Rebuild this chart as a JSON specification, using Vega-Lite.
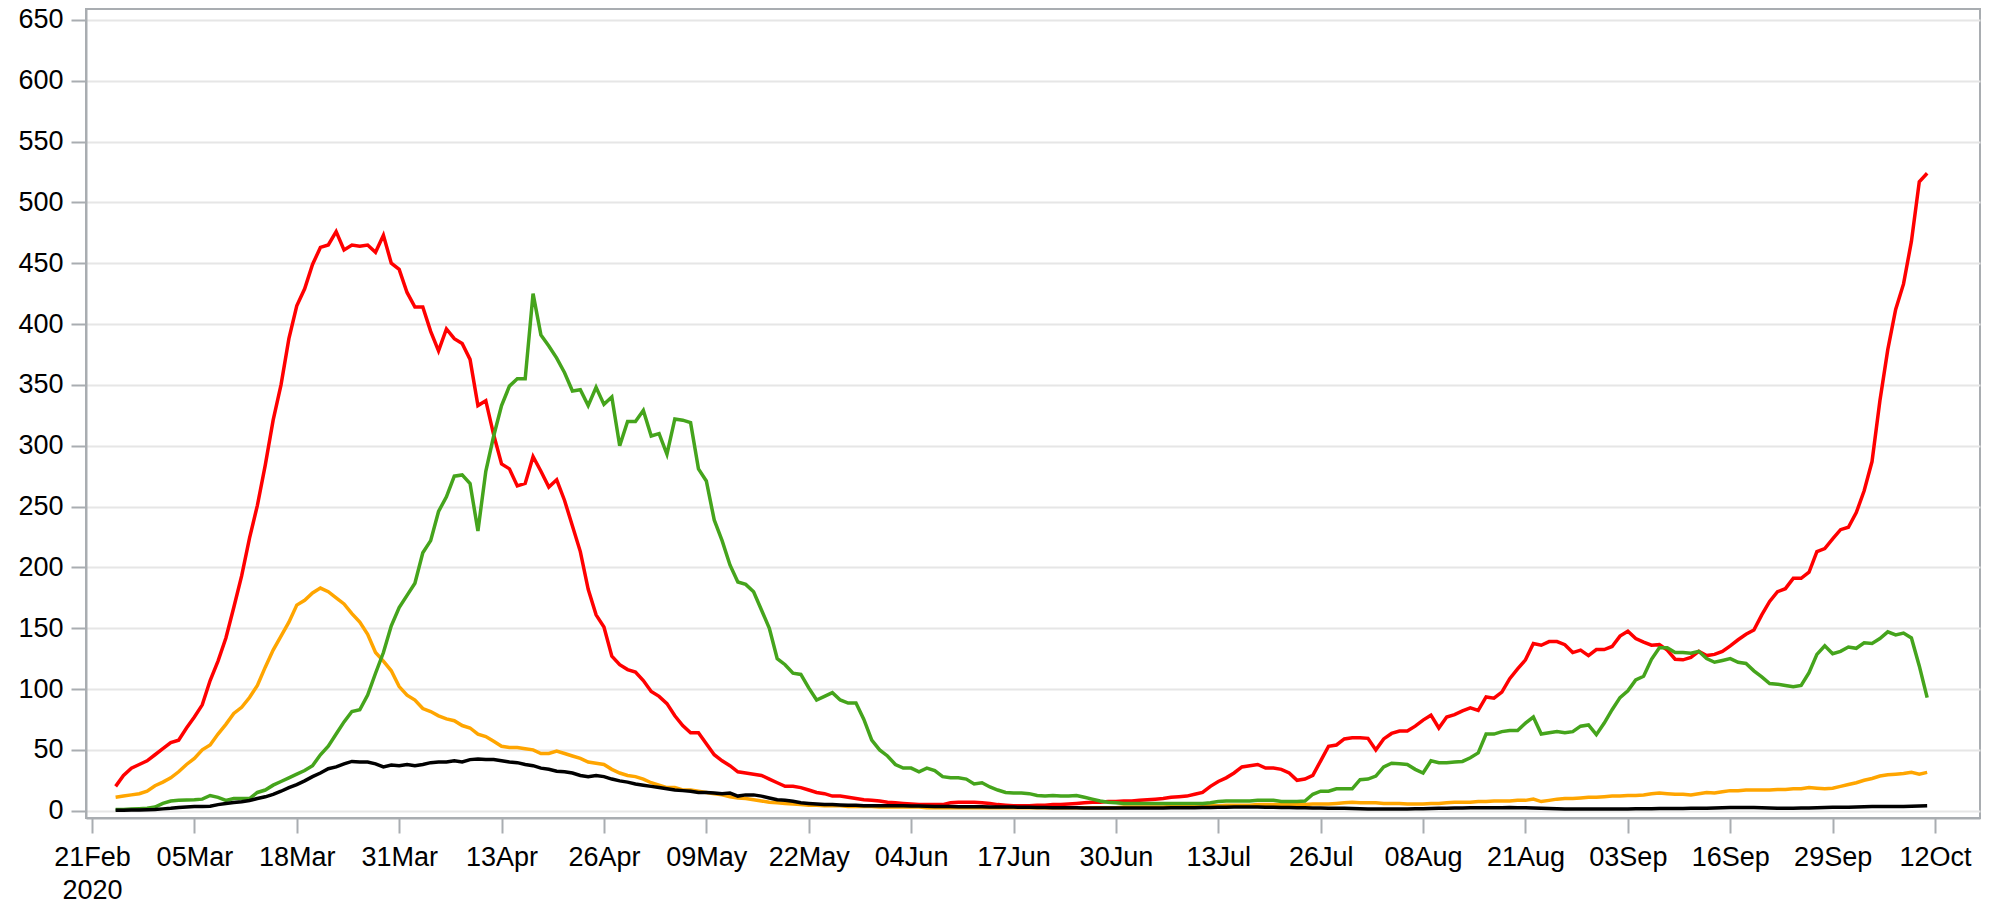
{
"$schema": "https://vega.github.io/schema/vega-lite/v6.json",
"width": 1894,
"height": 809,
"autosize": {"type": "none"},
"padding": {"left": 86, "top": 9, "right": 15, "bottom": 90},
"background": "white",
"config": {"view": {"stroke": "#a9adb1", "strokeWidth": 2}, "font": "Liberation Sans"},
"data": {"values": [
{"date":"2020-02-24","A":20,"B":11,"C":1,"D":0.3},
{"date":"2020-02-25","A":29,"B":12,"C":1,"D":0.4},
{"date":"2020-02-26","A":35,"B":13,"C":1.3,"D":0.5},
{"date":"2020-02-27","A":38,"B":14,"C":1.7,"D":0.6},
{"date":"2020-02-28","A":41,"B":16,"C":2,"D":0.8},
{"date":"2020-02-29","A":46,"B":20.5,"C":3,"D":1},
{"date":"2020-03-01","A":51,"B":23.5,"C":6,"D":1.5},
{"date":"2020-03-02","A":56,"B":27,"C":8,"D":2},
{"date":"2020-03-03","A":58,"B":32,"C":8.5,"D":2.7},
{"date":"2020-03-04","A":68,"B":38,"C":8.7,"D":3},
{"date":"2020-03-05","A":77,"B":43,"C":9,"D":3.4},
{"date":"2020-03-06","A":87,"B":50,"C":9.5,"D":3.5},
{"date":"2020-03-07","A":107,"B":54,"C":12.5,"D":3.7},
{"date":"2020-03-08","A":123,"B":63,"C":11,"D":5},
{"date":"2020-03-09","A":142,"B":71,"C":8.5,"D":6},
{"date":"2020-03-10","A":167,"B":80,"C":10,"D":6.7},
{"date":"2020-03-11","A":193,"B":85,"C":10,"D":7.4},
{"date":"2020-03-12","A":224,"B":93,"C":10,"D":8.4},
{"date":"2020-03-13","A":251,"B":103,"C":15,"D":10},
{"date":"2020-03-14","A":284,"B":118,"C":17,"D":11.4},
{"date":"2020-03-15","A":321,"B":132,"C":21,"D":13.4},
{"date":"2020-03-16","A":350,"B":143.5,"C":24,"D":16},
{"date":"2020-03-17","A":388,"B":155,"C":27,"D":19},
{"date":"2020-03-18","A":415,"B":169,"C":30,"D":21.5},
{"date":"2020-03-19","A":429,"B":173,"C":33,"D":24.5},
{"date":"2020-03-20","A":449,"B":179,"C":37,"D":28},
{"date":"2020-03-21","A":463,"B":183,"C":46,"D":31},
{"date":"2020-03-22","A":465,"B":180,"C":53,"D":34.5},
{"date":"2020-03-23","A":476,"B":175,"C":63,"D":36},
{"date":"2020-03-24","A":461,"B":170,"C":73,"D":38.5},
{"date":"2020-03-25","A":465,"B":162,"C":81.5,"D":40.5},
{"date":"2020-03-26","A":464,"B":155,"C":83,"D":40},
{"date":"2020-03-27","A":465,"B":145,"C":95,"D":40},
{"date":"2020-03-28","A":459,"B":130,"C":113,"D":38.5},
{"date":"2020-03-29","A":473,"B":123,"C":130,"D":36},
{"date":"2020-03-30","A":450,"B":115,"C":152,"D":37.5},
{"date":"2020-03-31","A":445,"B":102,"C":167,"D":37},
{"date":"2020-04-01","A":426,"B":95,"C":177,"D":38},
{"date":"2020-04-02","A":414,"B":91,"C":187,"D":37},
{"date":"2020-04-03","A":414,"B":84,"C":212,"D":38},
{"date":"2020-04-04","A":394,"B":81.5,"C":222,"D":39.5},
{"date":"2020-04-05","A":378,"B":78,"C":246,"D":40},
{"date":"2020-04-06","A":396,"B":75.5,"C":258,"D":40},
{"date":"2020-04-07","A":388,"B":74,"C":275,"D":41},
{"date":"2020-04-08","A":384,"B":70,"C":276,"D":40},
{"date":"2020-04-09","A":371,"B":68,"C":269,"D":42},
{"date":"2020-04-10","A":333,"B":63,"C":230,"D":42.5},
{"date":"2020-04-11","A":337,"B":61,"C":279,"D":42},
{"date":"2020-04-12","A":309,"B":57,"C":308,"D":42},
{"date":"2020-04-13","A":285,"B":53,"C":333,"D":41},
{"date":"2020-04-14","A":281,"B":52,"C":349,"D":40},
{"date":"2020-04-15","A":267,"B":52,"C":355,"D":39.5},
{"date":"2020-04-16","A":269,"B":51,"C":355,"D":38},
{"date":"2020-04-17","A":291,"B":50,"C":425,"D":37},
{"date":"2020-04-18","A":279,"B":47,"C":391,"D":35},
{"date":"2020-04-19","A":266,"B":47,"C":382,"D":34},
{"date":"2020-04-20","A":272,"B":49,"C":372,"D":32.5},
{"date":"2020-04-21","A":255,"B":47,"C":360,"D":32},
{"date":"2020-04-22","A":234,"B":45,"C":345,"D":31},
{"date":"2020-04-23","A":213,"B":43,"C":346,"D":29},
{"date":"2020-04-24","A":182,"B":40,"C":333,"D":28},
{"date":"2020-04-25","A":161,"B":39,"C":348,"D":29},
{"date":"2020-04-26","A":151,"B":38,"C":334,"D":28},
{"date":"2020-04-27","A":127,"B":34,"C":340,"D":26},
{"date":"2020-04-28","A":120,"B":31,"C":300,"D":24.5},
{"date":"2020-04-29","A":116,"B":29,"C":320,"D":23.5},
{"date":"2020-04-30","A":114,"B":28,"C":320,"D":22},
{"date":"2020-05-01","A":107,"B":26,"C":329,"D":21},
{"date":"2020-05-02","A":98,"B":23,"C":308,"D":20},
{"date":"2020-05-03","A":94,"B":21,"C":310,"D":19},
{"date":"2020-05-04","A":88,"B":19,"C":293,"D":18},
{"date":"2020-05-05","A":78,"B":19,"C":322,"D":17},
{"date":"2020-05-06","A":70,"B":17,"C":321,"D":16.5},
{"date":"2020-05-07","A":64,"B":17,"C":319,"D":16},
{"date":"2020-05-08","A":64,"B":16,"C":281,"D":15},
{"date":"2020-05-09","A":55,"B":15,"C":271,"D":15},
{"date":"2020-05-10","A":46,"B":14,"C":239,"D":14.5},
{"date":"2020-05-11","A":41,"B":13,"C":222,"D":14},
{"date":"2020-05-12","A":37,"B":11.5,"C":202,"D":14.5},
{"date":"2020-05-13","A":32,"B":10.5,"C":188,"D":12},
{"date":"2020-05-14","A":31,"B":10,"C":186,"D":13},
{"date":"2020-05-15","A":30,"B":9,"C":180,"D":13},
{"date":"2020-05-16","A":29,"B":8,"C":165,"D":12},
{"date":"2020-05-17","A":26,"B":7,"C":150,"D":10.5},
{"date":"2020-05-18","A":23,"B":6.5,"C":125,"D":9},
{"date":"2020-05-19","A":20,"B":6,"C":120,"D":8.5},
{"date":"2020-05-20","A":20,"B":5.5,"C":113,"D":7.7},
{"date":"2020-05-21","A":19,"B":5,"C":112,"D":6.5},
{"date":"2020-05-22","A":17,"B":4.5,"C":101,"D":6},
{"date":"2020-05-23","A":15,"B":4.5,"C":91,"D":5.5},
{"date":"2020-05-24","A":14,"B":4,"C":94,"D":5},
{"date":"2020-05-25","A":12,"B":4,"C":97,"D":5},
{"date":"2020-05-26","A":12,"B":4,"C":91,"D":4.7},
{"date":"2020-05-27","A":11,"B":3.5,"C":88.5,"D":4.5},
{"date":"2020-05-28","A":10,"B":3.5,"C":88.5,"D":4.5},
{"date":"2020-05-29","A":9,"B":3.5,"C":75,"D":4},
{"date":"2020-05-30","A":8.5,"B":3.5,"C":58,"D":4},
{"date":"2020-05-31","A":8,"B":3,"C":50,"D":4},
{"date":"2020-06-01","A":7,"B":3,"C":45,"D":4},
{"date":"2020-06-02","A":6.5,"B":3,"C":38,"D":4},
{"date":"2020-06-03","A":6,"B":3,"C":35,"D":4},
{"date":"2020-06-04","A":5.5,"B":3,"C":35,"D":3.8},
{"date":"2020-06-05","A":5,"B":3,"C":32,"D":3.8},
{"date":"2020-06-06","A":5,"B":2.5,"C":35,"D":3.6},
{"date":"2020-06-07","A":5,"B":2.5,"C":33,"D":3.5},
{"date":"2020-06-08","A":5,"B":2.5,"C":28,"D":3.5},
{"date":"2020-06-09","A":6.5,"B":2.5,"C":27,"D":3.5},
{"date":"2020-06-10","A":7,"B":2.5,"C":27,"D":3.3},
{"date":"2020-06-11","A":7,"B":2.5,"C":26,"D":3.2},
{"date":"2020-06-12","A":7,"B":2.5,"C":22,"D":3.2},
{"date":"2020-06-13","A":6.5,"B":2.5,"C":23,"D":3.2},
{"date":"2020-06-14","A":6,"B":2.5,"C":19.5,"D":3},
{"date":"2020-06-15","A":5,"B":2.5,"C":17,"D":3},
{"date":"2020-06-16","A":4.5,"B":2.5,"C":15,"D":3},
{"date":"2020-06-17","A":4,"B":2.5,"C":14.5,"D":3},
{"date":"2020-06-18","A":4,"B":2.5,"C":14.5,"D":2.8},
{"date":"2020-06-19","A":4,"B":2.5,"C":14,"D":2.8},
{"date":"2020-06-20","A":4.5,"B":2.5,"C":12.5,"D":2.7},
{"date":"2020-06-21","A":4.5,"B":2.5,"C":12,"D":2.7},
{"date":"2020-06-22","A":5,"B":2.5,"C":12.5,"D":2.5},
{"date":"2020-06-23","A":5,"B":2.5,"C":12,"D":2.5},
{"date":"2020-06-24","A":5.5,"B":2.5,"C":12,"D":2.5},
{"date":"2020-06-25","A":6,"B":2.5,"C":12.5,"D":2.5},
{"date":"2020-06-26","A":6.5,"B":2.5,"C":11,"D":2.3},
{"date":"2020-06-27","A":7,"B":2.5,"C":9.5,"D":2.3},
{"date":"2020-06-28","A":7,"B":2.5,"C":8,"D":2.2},
{"date":"2020-06-29","A":7.5,"B":2.5,"C":7,"D":2.2},
{"date":"2020-06-30","A":7.5,"B":2.5,"C":6.5,"D":2.2},
{"date":"2020-07-01","A":8,"B":3,"C":6,"D":2.2},
{"date":"2020-07-02","A":8,"B":3,"C":6,"D":2.2},
{"date":"2020-07-03","A":8.5,"B":3,"C":6,"D":2.2},
{"date":"2020-07-04","A":9,"B":3,"C":6,"D":2.3},
{"date":"2020-07-05","A":9.5,"B":3,"C":6,"D":2.3},
{"date":"2020-07-06","A":10,"B":3,"C":6,"D":2.3},
{"date":"2020-07-07","A":11,"B":3.5,"C":6,"D":2.5},
{"date":"2020-07-08","A":11.5,"B":3.5,"C":6,"D":2.5},
{"date":"2020-07-09","A":12,"B":3.5,"C":6,"D":2.5},
{"date":"2020-07-10","A":13.5,"B":3.5,"C":6,"D":2.5},
{"date":"2020-07-11","A":15,"B":4,"C":6,"D":2.7},
{"date":"2020-07-12","A":20,"B":4,"C":6.5,"D":2.7},
{"date":"2020-07-13","A":24,"B":4,"C":7.5,"D":2.8},
{"date":"2020-07-14","A":27,"B":4.5,"C":8,"D":2.8},
{"date":"2020-07-15","A":31,"B":4.5,"C":8,"D":3},
{"date":"2020-07-16","A":36,"B":4.5,"C":8,"D":3},
{"date":"2020-07-17","A":37,"B":4.5,"C":8,"D":3},
{"date":"2020-07-18","A":38,"B":5,"C":8.5,"D":3},
{"date":"2020-07-19","A":35,"B":5,"C":8.5,"D":2.8},
{"date":"2020-07-20","A":35,"B":5,"C":8.5,"D":2.8},
{"date":"2020-07-21","A":34,"B":5,"C":7.5,"D":2.6},
{"date":"2020-07-22","A":31,"B":5,"C":7.5,"D":2.6},
{"date":"2020-07-23","A":25,"B":5,"C":7.5,"D":2.5},
{"date":"2020-07-24","A":26,"B":5,"C":8,"D":2.4},
{"date":"2020-07-25","A":29,"B":5.5,"C":13.5,"D":2.3},
{"date":"2020-07-26","A":41,"B":5.5,"C":16,"D":2.2},
{"date":"2020-07-27","A":53,"B":5.5,"C":16,"D":2.1},
{"date":"2020-07-28","A":54,"B":6,"C":18,"D":2},
{"date":"2020-07-29","A":59,"B":6.5,"C":18,"D":2},
{"date":"2020-07-30","A":60,"B":7,"C":18,"D":1.8},
{"date":"2020-07-31","A":60,"B":6.5,"C":25.5,"D":1.6},
{"date":"2020-08-01","A":59.5,"B":6.5,"C":26,"D":1.5},
{"date":"2020-08-02","A":50,"B":6.5,"C":28.5,"D":1.5},
{"date":"2020-08-03","A":59,"B":6,"C":36,"D":1.4},
{"date":"2020-08-04","A":63.5,"B":6,"C":39,"D":1.4},
{"date":"2020-08-05","A":65.5,"B":6,"C":38.5,"D":1.5},
{"date":"2020-08-06","A":65.5,"B":5.5,"C":38,"D":1.5},
{"date":"2020-08-07","A":69.5,"B":5.5,"C":34,"D":1.6},
{"date":"2020-08-08","A":74.5,"B":5.5,"C":31,"D":1.6},
{"date":"2020-08-09","A":78.5,"B":6,"C":41,"D":1.8},
{"date":"2020-08-10","A":68,"B":6,"C":39.5,"D":2},
{"date":"2020-08-11","A":77,"B":6.5,"C":39.5,"D":2},
{"date":"2020-08-12","A":79,"B":7,"C":40,"D":2.2},
{"date":"2020-08-13","A":82,"B":7,"C":40.5,"D":2.3},
{"date":"2020-08-14","A":84.5,"B":7,"C":43.5,"D":2.4},
{"date":"2020-08-15","A":82.5,"B":7.5,"C":47.5,"D":2.5},
{"date":"2020-08-16","A":93.5,"B":7.5,"C":63,"D":2.5},
{"date":"2020-08-17","A":92.5,"B":8,"C":63,"D":2.5},
{"date":"2020-08-18","A":97.5,"B":8,"C":65,"D":2.5},
{"date":"2020-08-19","A":108.5,"B":8,"C":66,"D":2.6},
{"date":"2020-08-20","A":116.5,"B":8.5,"C":66,"D":2.5},
{"date":"2020-08-21","A":124,"B":8.5,"C":72,"D":2.4},
{"date":"2020-08-22","A":137.5,"B":9.5,"C":77,"D":2.2},
{"date":"2020-08-23","A":136,"B":7.5,"C":63,"D":2},
{"date":"2020-08-24","A":139,"B":8.5,"C":64,"D":1.8},
{"date":"2020-08-25","A":139,"B":9.5,"C":65,"D":1.6},
{"date":"2020-08-26","A":136.5,"B":10,"C":64,"D":1.5},
{"date":"2020-08-27","A":130,"B":10,"C":65,"D":1.4},
{"date":"2020-08-28","A":132,"B":10.5,"C":69.5,"D":1.4},
{"date":"2020-08-29","A":127.5,"B":11,"C":70.5,"D":1.3},
{"date":"2020-08-30","A":132.5,"B":11,"C":62.5,"D":1.3},
{"date":"2020-08-31","A":132.5,"B":11.5,"C":72,"D":1.3},
{"date":"2020-09-01","A":135,"B":12,"C":83,"D":1.4},
{"date":"2020-09-02","A":143.5,"B":12,"C":93,"D":1.5},
{"date":"2020-09-03","A":147.5,"B":12.5,"C":98.5,"D":1.5},
{"date":"2020-09-04","A":141.5,"B":12.5,"C":107.5,"D":1.6},
{"date":"2020-09-05","A":138.5,"B":13,"C":110.5,"D":1.6},
{"date":"2020-09-06","A":136,"B":14,"C":124.5,"D":1.7},
{"date":"2020-09-07","A":136.5,"B":14.5,"C":134,"D":1.8},
{"date":"2020-09-08","A":132,"B":14,"C":134,"D":1.8},
{"date":"2020-09-09","A":124.5,"B":13.5,"C":130,"D":1.8},
{"date":"2020-09-10","A":124,"B":13.5,"C":130,"D":1.9},
{"date":"2020-09-11","A":126,"B":13,"C":129.5,"D":2},
{"date":"2020-09-12","A":131,"B":14,"C":131,"D":2},
{"date":"2020-09-13","A":127.5,"B":15,"C":125,"D":2},
{"date":"2020-09-14","A":128.5,"B":14.5,"C":122,"D":2.2},
{"date":"2020-09-15","A":131,"B":15.5,"C":123.5,"D":2.4},
{"date":"2020-09-16","A":135.5,"B":16.5,"C":125,"D":2.6},
{"date":"2020-09-17","A":140.5,"B":16.5,"C":122,"D":2.7},
{"date":"2020-09-18","A":145,"B":17,"C":121,"D":2.7},
{"date":"2020-09-19","A":148.5,"B":17,"C":115,"D":2.6},
{"date":"2020-09-20","A":161,"B":17,"C":110,"D":2.4},
{"date":"2020-09-21","A":172,"B":17,"C":104.5,"D":2.2},
{"date":"2020-09-22","A":180,"B":17.5,"C":104,"D":2.1},
{"date":"2020-09-23","A":182.5,"B":17.5,"C":103,"D":2.1},
{"date":"2020-09-24","A":191,"B":18,"C":102,"D":2.1},
{"date":"2020-09-25","A":191,"B":18,"C":103,"D":2.2},
{"date":"2020-09-26","A":196,"B":19,"C":113.5,"D":2.3},
{"date":"2020-09-27","A":213,"B":18.5,"C":128.5,"D":2.4},
{"date":"2020-09-28","A":215.5,"B":18,"C":135.5,"D":2.6},
{"date":"2020-09-29","A":223.5,"B":18.5,"C":129,"D":2.8},
{"date":"2020-09-30","A":231,"B":20,"C":131,"D":2.8},
{"date":"2020-10-01","A":233,"B":21.5,"C":134.5,"D":2.8},
{"date":"2020-10-02","A":245,"B":23,"C":133.5,"D":3},
{"date":"2020-10-03","A":263,"B":25,"C":138,"D":3.2},
{"date":"2020-10-04","A":287,"B":26.5,"C":137.5,"D":3.4},
{"date":"2020-10-05","A":337,"B":28.5,"C":141.5,"D":3.4},
{"date":"2020-10-06","A":379,"B":29.5,"C":147,"D":3.4},
{"date":"2020-10-07","A":412,"B":30,"C":144.5,"D":3.4},
{"date":"2020-10-08","A":433,"B":30.5,"C":146,"D":3.5},
{"date":"2020-10-09","A":468,"B":31.5,"C":142,"D":3.6},
{"date":"2020-10-10","A":517,"B":30,"C":119,"D":3.8},
{"date":"2020-10-11","A":524,"B":31.5,"C":93,"D":4}
]},
"transform": [{"fold": ["A", "B", "C", "D"], "as": ["series", "value"]}],
"mark": {"type": "line", "strokeWidth": 3.5, "strokeJoin": "miter"},
"encoding": {
  "x": {
    "field": "date", "type": "temporal",
    "scale": {"type": "utc", "nice": false, "domain": [
      {"year": 2020, "month": 2, "date": 20, "hours": 5, "minutes": 45, "utc": true},
      {"year": 2020, "month": 10, "date": 17, "hours": 17, "utc": true}]},
    "axis": {
      "title": null,
      "grid": false,
      "values": [
        {"year": 2020, "month": 2, "date": 21, "utc": true},
        {"year": 2020, "month": 3, "date": 5, "utc": true},
        {"year": 2020, "month": 3, "date": 18, "utc": true},
        {"year": 2020, "month": 3, "date": 31, "utc": true},
        {"year": 2020, "month": 4, "date": 13, "utc": true},
        {"year": 2020, "month": 4, "date": 26, "utc": true},
        {"year": 2020, "month": 5, "date": 9, "utc": true},
        {"year": 2020, "month": 5, "date": 22, "utc": true},
        {"year": 2020, "month": 6, "date": 4, "utc": true},
        {"year": 2020, "month": 6, "date": 17, "utc": true},
        {"year": 2020, "month": 6, "date": 30, "utc": true},
        {"year": 2020, "month": 7, "date": 13, "utc": true},
        {"year": 2020, "month": 7, "date": 26, "utc": true},
        {"year": 2020, "month": 8, "date": 8, "utc": true},
        {"year": 2020, "month": 8, "date": 21, "utc": true},
        {"year": 2020, "month": 9, "date": 3, "utc": true},
        {"year": 2020, "month": 9, "date": 16, "utc": true},
        {"year": 2020, "month": 9, "date": 29, "utc": true},
        {"year": 2020, "month": 10, "date": 12, "utc": true}
      ],
      "labelExpr": "(utcmonth(datum.value) == 1 && utcdate(datum.value) == 21) ? [utcFormat(datum.value, '%d%b'), '2020'] : utcFormat(datum.value, '%d%b')",
      "labelFont": "Liberation Sans",
      "labelFontSize": 27,
      "labelColor": "#000000",
      "labelPadding": 11,
      "labelLineHeight": 33,
      "labelFlush": false,
      "labelOverlap": false,
      "domainColor": "#a9adb1",
      "domainWidth": 2,
      "tickColor": "#a9adb1",
      "tickWidth": 2,
      "tickSize": 15
    }
  },
  "y": {
    "field": "value", "type": "quantitative",
    "scale": {"domain": [-6, 659], "nice": false, "zero": false},
    "axis": {
      "title": null,
      "values": [0, 50, 100, 150, 200, 250, 300, 350, 400, 450, 500, 550, 600, 650],
      "format": "d",
      "grid": true,
      "gridColor": "#e6e6e6",
      "gridWidth": 2,
      "labelFont": "Liberation Sans",
      "labelFontSize": 27,
      "labelColor": "#000000",
      "labelPadding": 8,
      "domainColor": "#a9adb1",
      "domainWidth": 2,
      "tickColor": "#a9adb1",
      "tickWidth": 2,
      "tickSize": 15
    }
  },
  "color": {
    "field": "series", "type": "nominal",
    "scale": {"domain": ["A", "B", "C", "D"], "range": ["#ff0000", "#ffa500", "#45a41c", "#000000"]},
    "legend": null
  }
}
}
